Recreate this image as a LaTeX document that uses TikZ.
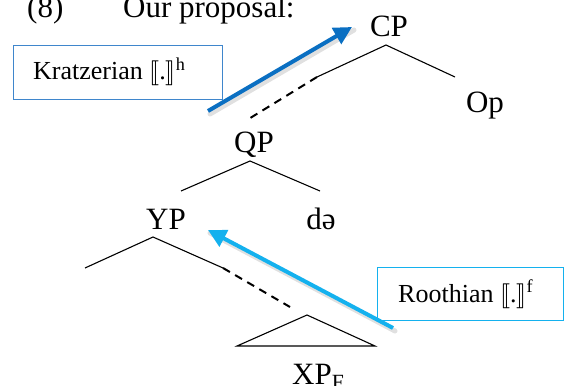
\documentclass[tikz,border=0pt]{standalone}
\usepackage{fontspec}
\setmainfont{Liberation Serif}
\usepackage{stmaryrd}
\usetikzlibrary{arrows.meta}
\definecolor{kblue}{HTML}{0A6FC2}
\definecolor{kbox}{HTML}{3F86CC}
\definecolor{rblue}{HTML}{14B1EE}
\newcommand{\dbr}{$\llbracket$.$\rrbracket$}
\begin{document}
\begin{tikzpicture}[x=1pt,y=-1pt,
  lbl/.style={inner sep=0pt,anchor=base,font=\fontsize{31}{36}\selectfont},
  boxtxt/.style={inner sep=0pt,anchor=base west,font=\fontsize{26}{30}\selectfont},
  branch/.style={line width=1.1pt},
  gap/.style={line width=2pt,dash pattern=on 8pt off 6pt},
  pointer/.style={line width=4pt,-{Triangle[length=18pt,width=18pt]}},
  shade/.style={line width=5pt,draw=black,opacity=0.12,line cap=round}]
\useasboundingbox (0,0) rectangle (564,385);

% heading
\node[lbl,anchor=base west] (num) at (27,18) {(8)};
\node[lbl,anchor=base west] (head) at (123,18) {Our proposal:};

% tree labels
\node[lbl] (cp) at (389,37) {CP};
\node[lbl] (op) at (485,113) {Op};
\node[lbl] (qp) at (254,152) {QP};
\node[lbl] (yp) at (166,229) {YP};
\node[lbl] (de) at (321,229) {də};
\node[lbl,anchor=base west] (xp) at (292,384) {XP\textsubscript{F}};

% branch points
\coordinate (cpT) at (386,45);
\coordinate (cpL) at (317,77);
\coordinate (cpR) at (455,77);
\coordinate (cpD) at (247,120);
\coordinate (qpT) at (250,161);
\coordinate (qpL) at (181,191);
\coordinate (qpR) at (320,191);
\coordinate (ypT) at (153,237);
\coordinate (ypL) at (85,268);
\coordinate (ypR) at (223,268);
\coordinate (ypD) at (290,307);
\coordinate (triT) at (307,315);
\coordinate (triL) at (237,346);
\coordinate (triR) at (375,346);

\draw[branch] (cpL) -- (cpT) -- (cpR);
\draw[gap] (cpL) -- (cpD);
\draw[branch] (qpL) -- (qpT) -- (qpR);
\draw[branch] (ypL) -- (ypT) -- (ypR);
\draw[gap] (ypR) -- (ypD);
\draw[branch] (triT) -- (triL) -- (triR) -- cycle;

% labelled boxes
\node[draw=kbox,line width=1.2pt,minimum width=209pt,minimum height=54pt,inner sep=0pt,anchor=north west] (kbox) at (13,45) {};
\node[boxtxt] (ktxt) at (33,80) {Kratzerian \dbr\textsuperscript{h}};
\node[draw=rblue,line width=1.2pt,minimum width=186pt,minimum height=53pt,inner sep=0pt,anchor=north west] (rbox) at (377,267) {};
\node[boxtxt] (rtxt) at (398,302) {Roothian \dbr\textsuperscript{f}};

% arrows
\coordinate (kA) at (208,111);
\coordinate (kB) at (352,27);
\coordinate (rA) at (393,328);
\coordinate (rB) at (208,230);
\draw[shade] ([shift={(2,3)}]kA) -- ([shift={(2,3)}]kB);
\draw[shade] ([shift={(2,3)}]rA) -- ([shift={(2,3)}]rB);
\draw[pointer,draw=kblue,fill=kblue] (kA) -- (kB);
\draw[pointer,draw=rblue,fill=rblue] (rA) -- (rB);
\end{tikzpicture}
\end{document}
